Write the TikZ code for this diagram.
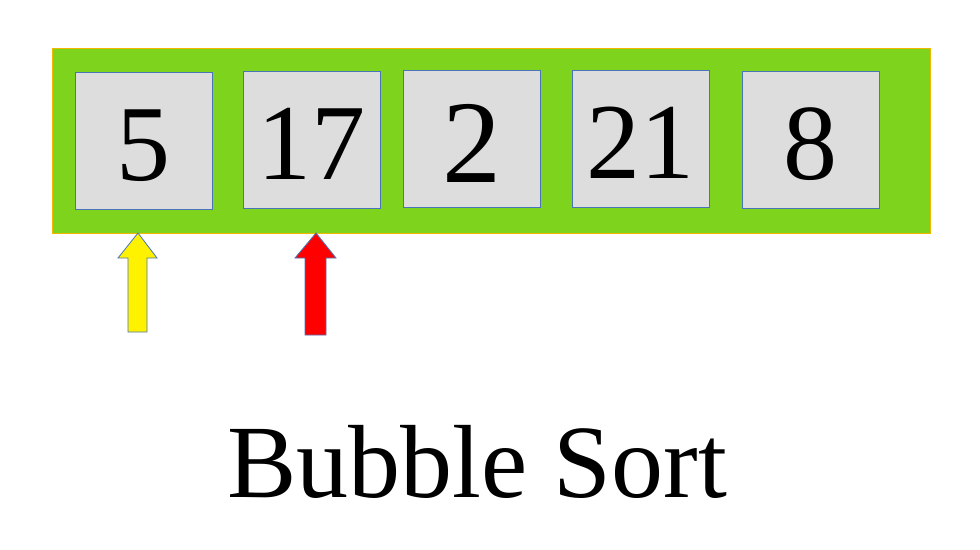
\documentclass[tikz,border=0pt]{standalone}
\usepackage{fontspec}
\setmainfont{Liberation Serif}
\definecolor{bargreen}{HTML}{7ED41C}
\definecolor{barborder}{HTML}{F2B800}
\definecolor{cellgray}{HTML}{DDDDDD}
\definecolor{cellblue}{HTML}{4A74B8}
\tikzset{
  cell/.style={draw=cellblue, line width=0.8pt, fill=cellgray, minimum width=137pt, minimum height=137pt, inner sep=0pt, text height=79pt, text depth=0pt, font=\fontsize{108}{108}\selectfont},
  bigcell/.style={cell, text height=87pt, font=\fontsize{118}{118}\selectfont},
  ptr/.style={draw=cellblue, line width=0.8pt},
}
\begin{document}
\begin{tikzpicture}[x=1pt,y=-1pt]
\useasboundingbox (0,0) rectangle (980,549);
\node[draw=barborder, line width=0.8pt, fill=bargreen, minimum width=878pt, minimum height=185pt, inner sep=0pt, anchor=north west] (bar) at (52,48) {};
\node[cell] (c1) at (143.5,140.5) {5};
\node[cell] (c2) at (311.5,139.5) {17};
\node[bigcell] (c3) at (471.5,138.5) {2};
\node[cell] (c4) at (640.5,138.5) {21};
\node[cell] (c5) at (810.5,139.5) {8};
\coordinate (py) at (138,233);
\coordinate (pr) at (316,233);
\draw[ptr, fill=yellow] (py) -- ++(19,25) -- ++(-10,0) -- ++(0,74) -- ++(-19,0) -- ++(0,-74) -- ++(-10,0) -- cycle;
\draw[ptr, fill=red] (pr) -- ++(20,25) -- ++(-10,0) -- ++(0,77) -- ++(-21,0) -- ++(0,-77) -- ++(-10,0) -- cycle;
\node[font=\fontsize{104}{104}\selectfont, anchor=base] (title) at (477,497) {Bubble Sort};
\end{tikzpicture}
\end{document}
